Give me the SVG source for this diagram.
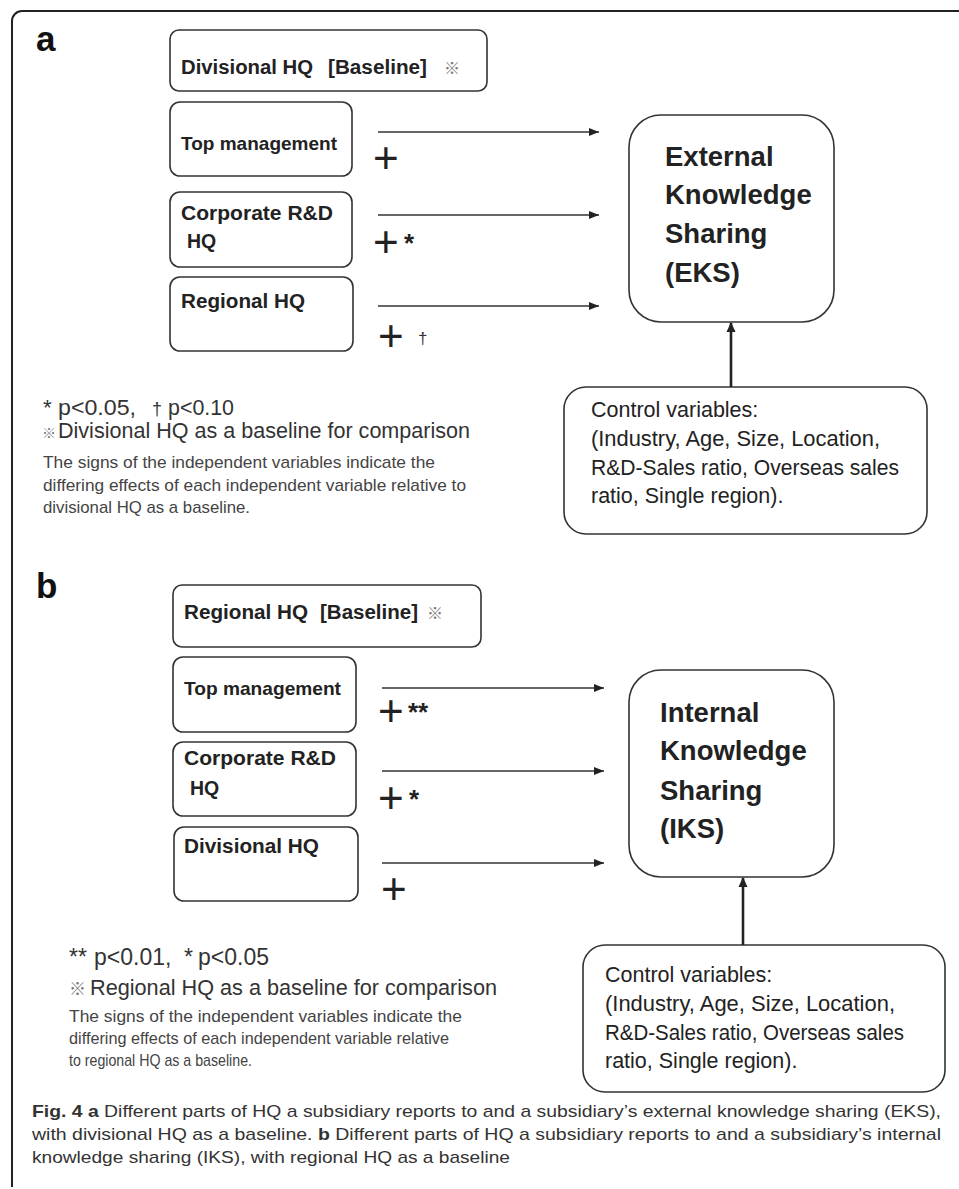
<svg xmlns="http://www.w3.org/2000/svg" width="959" height="1189" viewBox="0 0 959 1189">
<style>
text{font-family:"Liberation Sans",Arial,sans-serif;fill:#222}
.box{fill:#fff;stroke:#333;stroke-width:1.6}
.lbl{font-weight:bold;font-size:19.5px}
.big{font-weight:bold;font-size:27.5px}
.ctl{font-size:21.5px}
.plus{font-size:44px}
.ast{font-size:26px;font-weight:bold}
.ref{font-size:16px;fill:#777;font-family:"Noto Sans CJK JP","DejaVu Sans",sans-serif}
.leg1{font-size:22.5px;fill:#333}
.leg2{font-size:21.5px;fill:#333}
.leg3{font-size:17px;fill:#444}
.cap{font-size:17px;fill:#333}
.panel{font-size:35px;font-weight:bold;fill:#111}
.conn{stroke:#333;stroke-width:1.6;fill:none}
.up{stroke:#222;stroke-width:2.6;fill:none}
</style>
<defs>
<marker id="ah" markerUnits="userSpaceOnUse" markerWidth="10" markerHeight="8" refX="10" refY="4" orient="auto">
<path d="M0,0 L10,4 L0,8 z" fill="#222"/>
</marker>
<marker id="ahu" markerUnits="userSpaceOnUse" markerWidth="10" markerHeight="10" refX="9" refY="5" orient="auto">
<path d="M0,0.5 L10,5 L0,9.5 z" fill="#222"/>
</marker>
</defs>
<rect width="959" height="1189" fill="#fff"/>
<path d="M959,11 H22 A10,10 0 0 0 12,21 V1187" fill="none" stroke="#222" stroke-width="2"/>

<!-- Panel a -->
<text class="panel" x="36" y="51">a</text>
<g id="a-baseline">
<rect class="box" x="170" y="30" width="317" height="61" rx="9"/>
<text class="lbl" x="181" y="74" style="font-size:20px" textLength="132" lengthAdjust="spacingAndGlyphs">Divisional HQ</text>
<text class="lbl" x="328" y="74" style="font-size:20px" textLength="99" lengthAdjust="spacingAndGlyphs">[Baseline]</text>
<text class="ref" x="444" y="74">※</text>
</g>
<g id="a-top">
<rect class="box" x="170" y="102" width="182" height="74" rx="10"/>
<text class="lbl" x="181" y="150" style="font-size:18.5px" textLength="156" lengthAdjust="spacingAndGlyphs">Top management</text>
</g>
<g id="a-rd">
<rect class="box" x="170" y="192" width="182" height="75" rx="10"/>
<text class="lbl" x="181" y="220" textLength="152" lengthAdjust="spacingAndGlyphs">Corporate R&amp;D</text>
<text class="lbl" x="187" y="248">HQ</text>
</g>
<g id="a-reg">
<rect class="box" x="170" y="277" width="183" height="74" rx="10"/>
<text class="lbl" x="181" y="308" textLength="124" lengthAdjust="spacingAndGlyphs">Regional HQ</text>
</g>
<g id="a-eks">
<rect class="box" x="629" y="115" width="205" height="207" rx="32"/>
<text class="big" x="665" y="166">External</text>
<text class="big" x="665" y="204">Knowledge</text>
<text class="big" x="665" y="243">Sharing</text>
<text class="big" x="665" y="282">(EKS)</text>
</g>
<g id="a-control">
<rect class="box" x="564" y="387" width="363" height="147" rx="22"/>
<text class="ctl" x="591" y="417">Control variables:</text>
<text class="ctl" x="591" y="446" textLength="289" lengthAdjust="spacingAndGlyphs">(Industry, Age, Size, Location,</text>
<text class="ctl" x="591" y="475" textLength="308" lengthAdjust="spacingAndGlyphs">R&amp;D-Sales ratio, Overseas sales</text>
<text class="ctl" x="591" y="503">ratio, Single region).</text>
</g>
<g id="a-connectors">
<line class="conn" x1="378" y1="132" x2="599" y2="132" marker-end="url(#ah)"/>
<line class="conn" x1="378" y1="215" x2="599" y2="215" marker-end="url(#ah)"/>
<line class="conn" x1="378" y1="306" x2="599" y2="306" marker-end="url(#ah)"/>
<line class="up" x1="731" y1="387" x2="731" y2="323" marker-end="url(#ahu)"/>
</g>
<g id="a-signs">
<text class="plus" x="373" y="173">+</text>
<text class="plus" x="373" y="257">+</text>
<text class="ast" x="404" y="252">*</text>
<text class="plus" x="378" y="351">+</text>
<text x="418" y="344" style="font-size:17px;fill:#333">†</text>
</g>
<g id="a-legend">
<text class="leg1" x="43" y="415">*</text>
<text class="leg1" x="58" y="415" textLength="78" lengthAdjust="spacingAndGlyphs">p&lt;0.05,</text>
<text class="leg1" x="152" y="415" style="font-size:18px">†</text>
<text class="leg1" x="168" y="415" textLength="66" lengthAdjust="spacingAndGlyphs">p&lt;0.10</text>
<text class="leg2" x="42" y="438"><tspan class="ref" style="font-size:14px">※</tspan><tspan x="58" textLength="412" lengthAdjust="spacingAndGlyphs">Divisional HQ as a baseline for comparison</tspan></text>
<text class="leg3" x="43" y="468" textLength="392" lengthAdjust="spacingAndGlyphs">The signs of the independent variables indicate the</text>
<text class="leg3" x="43" y="491" textLength="423" lengthAdjust="spacingAndGlyphs">differing effects of each independent variable relative to</text>
<text class="leg3" x="43" y="513" textLength="207" lengthAdjust="spacingAndGlyphs">divisional HQ as a baseline.</text>
</g>

<!-- Panel b -->
<text class="panel" x="36" y="598">b</text>
<g id="b-baseline">
<rect class="box" x="173" y="585" width="308" height="62" rx="9"/>
<text class="lbl" x="184" y="619" style="font-size:20px" textLength="124" lengthAdjust="spacingAndGlyphs">Regional HQ</text>
<text class="lbl" x="320" y="619" style="font-size:20px" textLength="98" lengthAdjust="spacingAndGlyphs">[Baseline]</text>
<text class="ref" x="427" y="619">※</text>
</g>
<g id="b-top">
<rect class="box" x="173" y="657" width="183" height="75" rx="10"/>
<text class="lbl" x="184" y="695" style="font-size:18.5px" textLength="157" lengthAdjust="spacingAndGlyphs">Top management</text>
</g>
<g id="b-rd">
<rect class="box" x="173" y="742" width="183" height="74" rx="10"/>
<text class="lbl" x="184" y="765" textLength="152" lengthAdjust="spacingAndGlyphs">Corporate R&amp;D</text>
<text class="lbl" x="190" y="795">HQ</text>
</g>
<g id="b-div">
<rect class="box" x="174" y="827" width="184" height="74" rx="10"/>
<text class="lbl" x="184" y="853" textLength="135" lengthAdjust="spacingAndGlyphs">Divisional HQ</text>
</g>
<g id="b-iks">
<rect class="box" x="629" y="670" width="205" height="207" rx="32"/>
<text class="big" x="660" y="722">Internal</text>
<text class="big" x="660" y="760">Knowledge</text>
<text class="big" x="660" y="800">Sharing</text>
<text class="big" x="660" y="838">(IKS)</text>
</g>
<g id="b-control">
<rect class="box" x="583" y="945" width="362" height="147" rx="22"/>
<text class="ctl" x="605" y="982">Control variables:</text>
<text class="ctl" x="605" y="1011" textLength="290" lengthAdjust="spacingAndGlyphs">(Industry, Age, Size, Location,</text>
<text class="ctl" x="605" y="1040" textLength="299" lengthAdjust="spacingAndGlyphs">R&amp;D-Sales ratio, Overseas sales</text>
<text class="ctl" x="605" y="1068">ratio, Single region).</text>
</g>
<g id="b-connectors">
<line class="conn" x1="382" y1="688" x2="604" y2="688" marker-end="url(#ah)"/>
<line class="conn" x1="382" y1="771" x2="604" y2="771" marker-end="url(#ah)"/>
<line class="conn" x1="382" y1="863" x2="604" y2="863" marker-end="url(#ah)"/>
<line class="up" x1="743" y1="945" x2="743" y2="878" marker-end="url(#ahu)"/>
</g>
<g id="b-signs">
<text class="plus" x="378" y="726">+</text>
<text class="ast" x="408" y="721">**</text>
<text class="plus" x="378" y="813">+</text>
<text class="ast" x="409" y="808">*</text>
<text class="plus" x="381" y="904">+</text>
</g>
<g id="b-legend">
<text class="leg1" x="69" y="965" style="font-size:23px">**</text>
<text class="leg1" x="94" y="965" style="font-size:23px">p&lt;0.01,</text>
<text class="leg1" x="184" y="965" style="font-size:23px">*</text>
<text class="leg1" x="198" y="965" style="font-size:23px">p&lt;0.05</text>
<text class="leg2" x="69" y="995"><tspan class="ref" style="font-size:17px">※</tspan><tspan x="90" textLength="407" lengthAdjust="spacingAndGlyphs">Regional HQ as a baseline for comparison</tspan></text>
<text class="leg3" x="69" y="1022" textLength="393" lengthAdjust="spacingAndGlyphs">The signs of the independent variables indicate the</text>
<text class="leg3" x="69" y="1044" textLength="380" lengthAdjust="spacingAndGlyphs">differing effects of each independent variable relative</text>
<text class="leg3" x="69" y="1066" textLength="183" lengthAdjust="spacingAndGlyphs">to regional HQ as a baseline.</text>
</g>

<!-- Caption -->
<g id="caption">
<text class="cap" x="32" y="1117" textLength="909" lengthAdjust="spacingAndGlyphs"><tspan font-weight="bold">Fig. 4 a</tspan> Different parts of HQ a subsidiary reports to and a subsidiary’s external knowledge sharing (EKS),</text>
<text class="cap" x="32" y="1140" textLength="909" lengthAdjust="spacingAndGlyphs">with divisional HQ as a baseline. <tspan font-weight="bold">b</tspan> Different parts of HQ a subsidiary reports to and a subsidiary’s internal</text>
<text class="cap" x="32" y="1163" textLength="478" lengthAdjust="spacingAndGlyphs">knowledge sharing (IKS), with regional HQ as a baseline</text>
</g>
</svg>
